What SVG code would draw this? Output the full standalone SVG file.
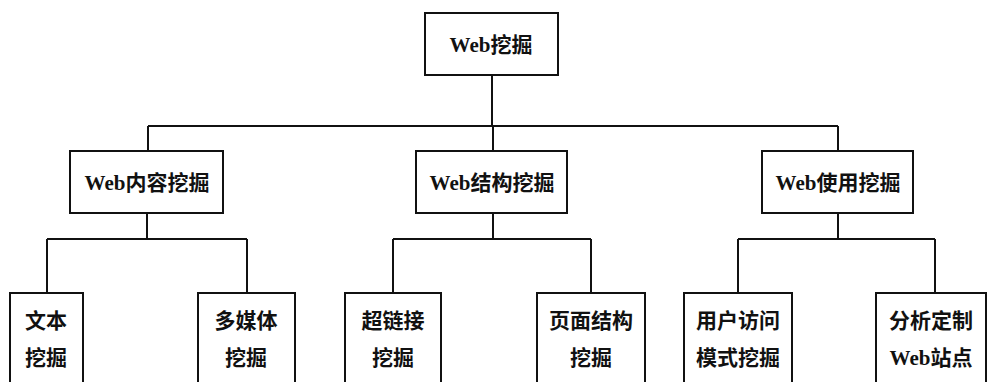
<svg xmlns="http://www.w3.org/2000/svg" width="987" height="382" viewBox="0 0 987 382">
<style>
.box{fill:#fff;stroke:#111;stroke-width:2}
.ln{fill:none;stroke:#111;stroke-width:2}
text{font-family:"Liberation Serif","Noto Sans CJK SC",serif;font-size:21px;font-weight:bold;fill:#111;text-anchor:middle}
</style>
<rect width="987" height="382" fill="#fff"/>
<g id="connectors">
<path class="ln" d="M492 75V126M148 126H838M148 126V151M493 126V151M838 126V151"/>
<path class="ln" d="M147 213V239M47 239H247M47 239V293M247 239V293"/>
<path class="ln" d="M493 213V239M393 239H591M393 239V293M591 239V293"/>
<path class="ln" d="M838 213V239M738 239H935M738 239V293M935 239V293"/>
</g>
<g id="root"><rect class="box" x="425" y="13" width="133" height="62"/><text x="491" y="52">Web挖掘</text></g>
<g id="content"><rect class="box" x="70" y="151" width="153" height="62"/><text x="147" y="190">Web内容挖掘</text></g>
<g id="structure"><rect class="box" x="416" y="151" width="151" height="62"/><text x="492" y="190">Web结构挖掘</text></g>
<g id="usage"><rect class="box" x="762" y="151" width="151" height="62"/><text x="838" y="190">Web使用挖掘</text></g>
<g id="text-mining"><rect class="box" x="10" y="293" width="73" height="100"/><text x="46" y="328">文本</text><text x="46" y="365">挖掘</text></g>
<g id="multimedia"><rect class="box" x="198" y="293" width="97" height="100"/><text x="246" y="328">多媒体</text><text x="246" y="365">挖掘</text></g>
<g id="hyperlink"><rect class="box" x="345" y="293" width="96" height="100"/><text x="393" y="328">超链接</text><text x="393" y="365">挖掘</text></g>
<g id="page-structure"><rect class="box" x="537" y="293" width="108" height="100"/><text x="591" y="328">页面结构</text><text x="591" y="365">挖掘</text></g>
<g id="access-pattern"><rect class="box" x="684" y="293" width="108" height="100"/><text x="738" y="328">用户访问</text><text x="738" y="365">模式挖掘</text></g>
<g id="custom-site"><rect class="box" x="876" y="293" width="110" height="100"/><text x="931" y="328">分析定制</text><text x="931" y="365">Web站点</text></g>
</svg>
